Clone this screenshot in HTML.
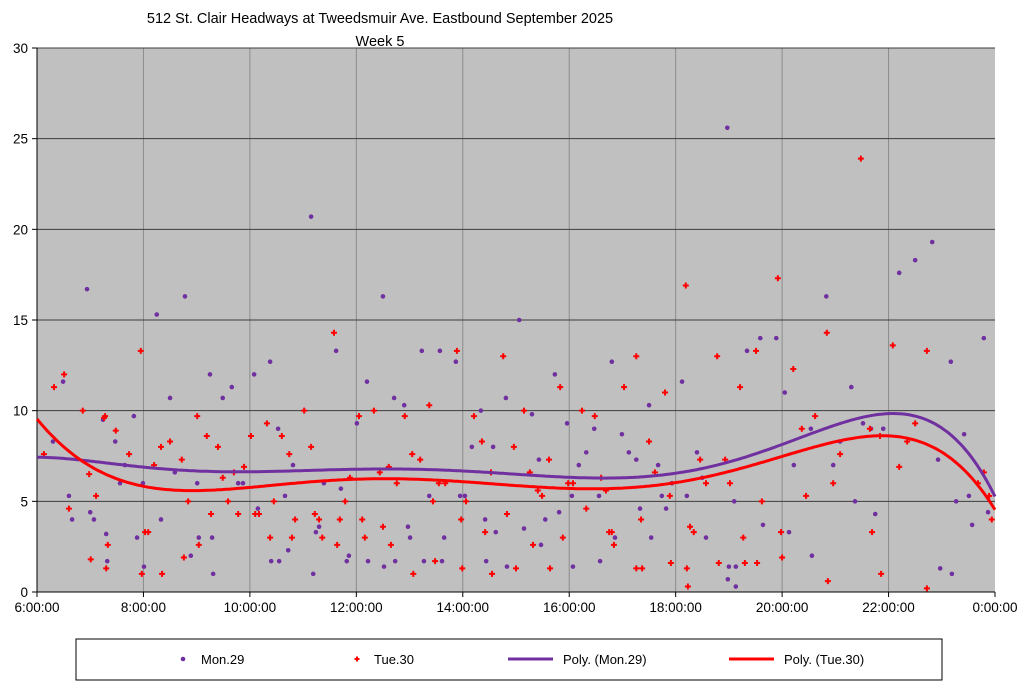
<!DOCTYPE html>
<html><head><meta charset="utf-8"><style>
body{margin:0;background:#fff;width:1024px;height:688px;overflow:hidden;font-family:"Liberation Sans",Arial,sans-serif}
svg text{font-family:"Liberation Sans",Arial,sans-serif}
</style></head><body>
<svg id="chart" width="1024" height="688" xmlns="http://www.w3.org/2000/svg">
<text x="380" y="23" text-anchor="middle" font-size="14.5">512 St. Clair Headways at Tweedsmuir Ave. Eastbound September 2025</text>
<text x="380" y="46" text-anchor="middle" font-size="14.5">Week 5</text>
<rect x="37" y="48" width="958" height="544" fill="#c0c0c0"/>
<g id="grid"></g><g id="axes"></g><g id="marks"></g><g id="trends"></g>
<g>
<rect x="76" y="639" width="866" height="41" fill="#fff" stroke="#000" stroke-width="1"/>
<circle cx="183" cy="659" r="2.3" fill="#7030a0"/>
<text x="201" y="664" font-size="13">Mon.29</text>
<path d="M356 656.5h2v1.5h1.5v2h-1.5v1.5h-2v-1.5h-1.5v-2h1.5z" fill="#ff0000"/>
<text x="374" y="664" font-size="13">Tue.30</text>
<line x1="508" y1="659" x2="553" y2="659" stroke="#7030a0" stroke-width="3"/>
<text x="563" y="664" font-size="13">Poly. (Mon.29)</text>
<line x1="729" y1="659" x2="774" y2="659" stroke="#ff0000" stroke-width="3"/>
<text x="784" y="664" font-size="13">Poly. (Tue.30)</text>
</g>
</svg>
<script>
const xTickLabels=["6:00:00","8:00:00","10:00:00","12:00:00","14:00:00","16:00:00","18:00:00","20:00:00","22:00:00","0:00:00"];
const yTickLabels=["0","5","10","15","20","25","30"];
const monTimes=[6.30,6.49,6.60,6.66,6.94,7.00,7.07,7.24,7.30,7.32,7.47,7.56,7.65,7.82,7.88,7.99,8.01,8.25,8.33,8.50,8.59,8.78,8.89,9.01,9.04,9.25,9.29,9.31,9.49,9.66,9.78,9.87,10.08,10.15,10.38,10.40,10.53,10.55,10.66,10.72,10.81,11.15,11.19,11.24,11.30,11.39,11.62,11.71,11.82,11.86,12.01,12.20,12.22,12.50,12.52,12.71,12.73,12.90,12.97,13.01,13.23,13.27,13.37,13.57,13.61,13.65,13.87,13.95,14.04,14.17,14.34,14.42,14.44,14.57,14.62,14.81,14.83,15.06,15.15,15.30,15.43,15.47,15.55,15.73,15.81,15.96,16.05,16.07,16.18,16.32,16.47,16.56,16.58,16.80,16.86,16.99,17.12,17.26,17.33,17.50,17.54,17.67,17.74,17.82,17.93,18.12,18.21,18.40,18.50,18.57,18.97,18.98,19.00,19.10,19.13,19.13,19.34,19.59,19.64,19.89,20.05,20.13,20.22,20.54,20.56,20.83,20.96,21.09,21.30,21.37,21.52,21.67,21.75,21.90,22.20,22.50,22.82,22.93,22.97,23.17,23.19,23.27,23.42,23.51,23.57,23.79,23.87];
const monValues=[8.3,11.6,5.3,4.0,16.7,4.4,4.0,9.5,3.2,1.7,8.3,6.0,7.0,9.7,3.0,6.0,1.4,15.3,4.0,10.7,6.6,16.3,2.0,6.0,3.0,12.0,3.0,1.0,10.7,11.3,6.0,6.0,12.0,4.6,12.7,1.7,9.0,1.7,5.3,2.3,7.0,20.7,1.0,3.3,3.6,6.0,13.3,5.7,1.7,2.0,9.3,11.6,1.7,16.3,1.4,10.7,1.7,10.3,3.6,3.0,13.3,1.7,5.3,13.3,1.7,3.0,12.7,5.3,5.3,8.0,10.0,4.0,1.7,8.0,3.3,10.7,1.4,15.0,3.5,9.8,7.3,2.6,4.0,12.0,4.4,9.3,5.3,1.4,7.0,7.7,9.0,5.3,1.7,12.7,3.0,8.7,7.7,7.3,4.6,10.3,3.0,7.0,5.3,4.6,6.0,11.6,5.3,7.7,6.3,3.0,25.6,0.7,1.4,5.0,1.4,0.3,13.3,14.0,3.7,14.0,11.0,3.3,7.0,9.0,2.0,16.3,7.0,8.3,11.3,5.0,9.3,9.0,4.3,9.0,17.6,18.3,19.3,7.3,1.3,12.7,1.0,5.0,8.7,5.3,3.7,14.0,4.4];
const tueTimes=[6.13,6.32,6.51,6.60,6.86,6.98,7.01,7.11,7.26,7.28,7.30,7.33,7.48,7.73,7.95,7.97,8.03,8.09,8.20,8.33,8.35,8.50,8.72,8.76,8.84,9.01,9.04,9.19,9.27,9.40,9.49,9.59,9.70,9.78,9.89,10.02,10.10,10.17,10.32,10.38,10.45,10.60,10.74,10.79,10.85,11.02,11.15,11.22,11.30,11.36,11.58,11.64,11.69,11.79,11.88,12.05,12.11,12.16,12.33,12.44,12.50,12.61,12.65,12.76,12.91,13.05,13.07,13.20,13.37,13.44,13.48,13.55,13.67,13.89,13.97,13.99,14.06,14.21,14.36,14.42,14.53,14.55,14.76,14.83,14.96,15.00,15.15,15.26,15.32,15.41,15.49,15.62,15.64,15.83,15.88,15.98,16.07,16.24,16.32,16.48,16.60,16.69,16.75,16.80,16.84,17.03,17.26,17.26,17.35,17.37,17.50,17.61,17.80,17.89,17.91,18.19,18.21,18.23,18.27,18.34,18.46,18.57,18.78,18.81,18.93,19.02,19.21,19.27,19.30,19.51,19.53,19.62,19.92,19.98,20.00,20.21,20.37,20.45,20.62,20.84,20.86,20.96,21.09,21.48,21.65,21.69,21.84,21.86,22.08,22.20,22.35,22.50,22.72,22.72,23.68,23.79,23.89,23.94];
const tueValues=[7.6,11.3,12.0,4.6,10.0,6.5,1.8,5.3,9.6,9.7,1.3,2.6,8.9,7.6,13.3,1.0,3.3,3.3,7.0,8.0,1.0,8.3,7.3,1.9,5.0,9.7,2.6,8.6,4.3,8.0,6.3,5.0,6.6,4.3,6.9,8.6,4.3,4.3,9.3,3.0,5.0,8.6,7.6,3.0,4.0,10.0,8.0,4.3,4.0,3.0,14.3,2.6,4.0,5.0,6.3,9.7,4.0,3.0,10.0,6.6,3.6,6.9,2.6,6.0,9.7,7.6,1.0,7.3,10.3,5.0,1.7,6.0,6.0,13.3,4.0,1.3,5.0,9.7,8.3,3.3,6.6,1.0,13.0,4.3,8.0,1.3,10.0,6.6,2.6,5.6,5.3,7.3,1.3,11.3,3.0,6.0,6.0,10.0,4.6,9.7,6.3,5.6,3.3,3.3,2.6,11.3,13.0,1.3,4.0,1.3,8.3,6.6,11.0,5.3,1.6,16.9,1.3,0.3,3.6,3.3,7.3,6.0,13.0,1.6,7.3,6.0,11.3,3.0,1.6,13.3,1.6,5.0,17.3,3.3,1.9,12.3,9.0,5.3,9.7,14.3,0.6,6.0,7.6,23.9,9.0,3.3,8.6,1.0,13.6,6.9,8.3,9.3,13.3,0.2,6.0,6.6,5.3,4.0];

const NS="http://www.w3.org/2000/svg";
const L=37,R=995,T=48,B=592,X0=6,X1=24,YMAX=30;
function xs(h){return L+(h-X0)/(X1-X0)*(R-L);}
function ys(v){return B-v/YMAX*(B-T);}
function mk(tag,attrs,parent){const e=document.createElementNS(NS,tag);for(const k in attrs)e.setAttribute(k,attrs[k]);parent.appendChild(e);return e;}
const grid=document.getElementById('grid'),axes=document.getElementById('axes'),marks=document.getElementById('marks'),trends=document.getElementById('trends');

xTickLabels.forEach((lab,i)=>{
  const x=xs(X0+i*2);
  if(i>0&&i<xTickLabels.length-1){
    const g=mk('line',{x1:x,y1:T,x2:x,y2:B,stroke:'#8c8c8c','stroke-width':1},grid);
    
    
  }
  const tk=mk('line',{x1:x,y1:B,x2:x,y2:B+5,stroke:'#000'},axes);
  
  
  const t=mk('text',{x:x,y:612,'text-anchor':'middle','font-size':'13.5'},axes);
  t.textContent=lab;
  
  
});
yTickLabels.forEach(lab=>{
  const v=+lab,y=ys(v);
  if(v>0){
    const g=mk('line',{x1:L,y1:y,x2:R,y2:y,stroke:'#3c3c3c','stroke-width':1},grid);
    
    
  }
  const tk=mk('line',{x1:L-5,y1:y,x2:L,y2:y,stroke:'#000'},axes);
  
  
  const t=mk('text',{x:28,y:y+5,'text-anchor':'end','font-size':'13.5'},axes);
  t.textContent=lab;
  
  
});
const ax=mk('path',{d:`M${L} ${T}V${B}H${R}`,fill:'none',stroke:'#000'},axes);



monTimes.forEach((h,i)=>{
  const c=mk('circle',{cx:xs(h),cy:ys(monValues[i]),r:2.3,fill:'#7030a0'},marks);
  
  
});
tueTimes.forEach((h,i)=>{
  const x=xs(h),y=ys(tueValues[i]);
  const p=mk('path',{d:`M${x-1} ${y-3}h2v2h2v2h-2v2h-2v-2h-2v-2h2z`,fill:'#ff0000'},marks);
  
  
});

function polyfit(xsArr,ysArr,deg){
  const n=deg+1,A=[];for(let i=0;i<n;i++){A.push(new Array(n+1).fill(0));}
  xsArr.forEach((x0,k)=>{const u=(x0-15)/9;const p=[];for(let i=0;i<=2*deg;i++)p.push(Math.pow(u,i));
    for(let i=0;i<n;i++){for(let j=0;j<n;j++)A[i][j]+=p[i+j];A[i][n]+=p[i]*ysArr[k];}});
  for(let i=0;i<n;i++){let m=i;for(let r=i+1;r<n;r++)if(Math.abs(A[r][i])>Math.abs(A[m][i]))m=r;[A[i],A[m]]=[A[m],A[i]];
    for(let r=0;r<n;r++){if(r===i)continue;const f=A[r][i]/A[i][i];for(let c=i;c<=n;c++)A[r][c]-=f*A[i][c];}}
  const c=A.map((row,i)=>row[n]/row[i]);
  return x0=>{const u=(x0-15)/9;let s=0;for(let i=n-1;i>=0;i--)s=s*u+c[i];return s;};
}
function drawTrend(t,v,deg,color,name){
  const f=polyfit(t,v,deg);let d='';
  for(let h=X0;h<=X1+1e-9;h+=0.05){d+=(d?'L':'M')+xs(h).toFixed(1)+' '+ys(f(h)).toFixed(1);}
  const p=mk('path',{d:d,fill:'none',stroke:color,'stroke-width':3},trends);
  
  
}
drawTrend(monTimes,monValues,6,'#7030a0','trend-mon29');
drawTrend(tueTimes,tueValues,6,'#ff0000','trend-tue30');
</script>
</body></html>
